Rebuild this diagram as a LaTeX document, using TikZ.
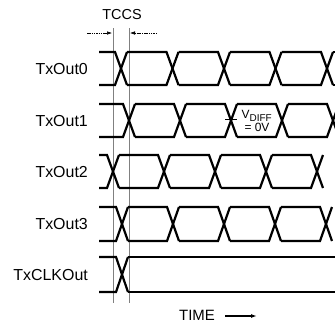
\documentclass[tikz,border=0pt]{standalone}
\usepackage{fontspec}
\setmainfont{Liberation Sans}
\usetikzlibrary{arrows.meta}

\begin{document}
\begin{tikzpicture}[x=1bp,y=-1bp]
    \tikzstyle{sig}=[line width=2.2bp, line join=miter]
    \tikzstyle{guide}=[gray, line width=0.6bp]
    \tikzstyle{lbl}=[anchor=east, inner sep=0pt, font=\fontsize{16}{16}\selectfont]
    \tikzstyle{skew}=[dash pattern=on 1.5bp off 0.8bp, line width=0.5bp, -{Latex[length=5bp,width=3.5bp]}]
    \useasboundingbox (0,0) rectangle (335,326);
    % skew window
    \draw[guide] (113,28) -- (113,303);
    \draw[guide] (129,28) -- (129,303);
    \node[font=\fontsize{14.5}{14.5}\selectfont] (tccs) at (122,15) {TCCS};
    \coordinate (skewA) at (87,33);
    \coordinate (skewB) at (157,33);
    \coordinate (skewAend) at (112,33);
    \coordinate (skewBend) at (130,33);
    \draw[skew] (skewA) -- (skewAend);
    \draw[skew] (skewB) -- (skewBend);
    % channels
    \node[lbl] (out0) at (88,69) {TxOut0};
    \node[lbl] (out1) at (88,121) {TxOut1};
    \node[lbl] (out2) at (88,172) {TxOut2};
    \node[lbl] (out3) at (88,224) {TxOut3};
    \node[lbl] (clkout) at (88,275) {TxCLKOut};
    \begin{scope}
        \clip (0,0) rectangle (335,326);
        \foreach \yt/\yb/\xs/\xend in {52/85/{121,172.5,224,275.5,327}/341,
                                       104/137/{129,180,231,282,333}/341,
                                       155/188/{113,164,215,266,317}/323,
                                       207/241/{122,173,224,275,326}/332,
                                       257/292/{122}/336}
        {
            \foreach \c [remember=\c as \p (initially 93)] in \xs
            {
                \draw[sig] (\p+6,\yt) -- (\c-6,\yt) -- (\c+6,\yb);
                \draw[sig] (\p+6,\yb) -- (\c-6,\yb) -- (\c+6,\yt);
                \xdef\lastc{\c}
            }
            \draw[sig] (\lastc+6,\yt) -- (\xend,\yt);
            \draw[sig] (\lastc+6,\yb) -- (\xend,\yb);
        }
    \end{scope}
    % zero crossing
    \coordinate (zeroA) at (225,119);
    \coordinate (zeroB) at (237,119);
    \draw[line width=0.6bp] (zeroA) -- (zeroB);
    \node[font=\fontsize{12}{13}\selectfont, align=center, inner sep=0pt] (vdiff) at (257,121) {V\textsubscript{\fontsize{10}{10}\selectfont DIFF}\\= 0V};
    % time axis
    \node[font=\fontsize{15}{15}\selectfont] (time) at (197,315) {TIME};
    \coordinate (timeend) at (257,316);
    \draw[line width=1.5bp, -{Latex[length=6bp,width=4bp]}] ([xshift=7bp,yshift=-1bp]time.east) -- (timeend);
\end{tikzpicture}
\end{document}
